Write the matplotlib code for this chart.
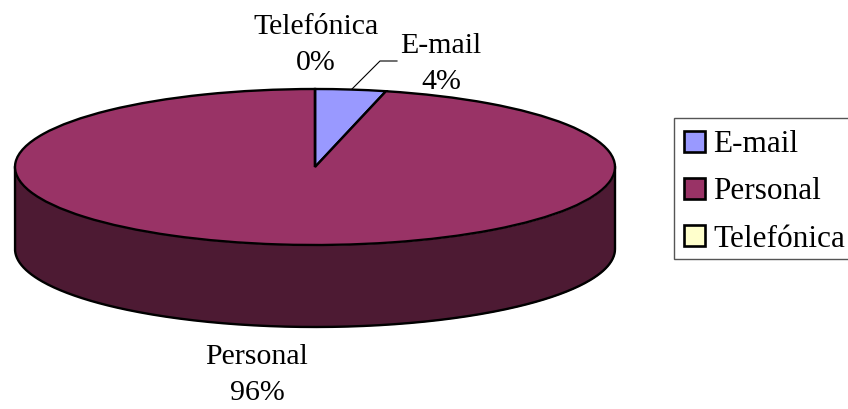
import numpy as np
import matplotlib
matplotlib.use('Agg')
import matplotlib.pyplot as plt

categories = ['E-mail', 'Personal', 'Telefónica']
shares = [3.8, 96.2, 0.0]
slice_colors = ['#9999FF', '#993366', '#FFFFCC']
side_color = '#4D1A33'

# pie geometry in pixels of the 848x409 picture
W, H = 848, 409
cx, cy = 315, 167
rx, ry = 300, 78
depth = 82

plt.rcParams['font.family'] = ['Liberation Serif']

fig = plt.figure(figsize=(W / 100, H / 100), dpi=100)
ax = fig.add_axes([0, 0, 1, 1])

# the front wall of the slanted pie, outline drawn as one line
t = np.linspace(np.pi, 2 * np.pi, 300)
ax.fill_between(np.cos(t), np.sin(t), np.sin(t) - depth / ry, color=side_color, lw=0, zorder=1)
wall_x = np.r_[-1, np.cos(t), 1]
wall_y = np.r_[0, np.sin(t) - depth / ry, 0]
ax.plot(wall_x, wall_y, color='black', lw=1.7, zorder=2)

ax.pie(shares, colors=slice_colors, startangle=90, counterclock=False, radius=1,
       wedgeprops={'edgecolor': 'black', 'linewidth': 1.7, 'zorder': 3})

# pie() forces a round shape, so squash it afterwards
ax.set_aspect('auto')
ax.set_xlim(-cx / rx, (W - cx) / rx)
ax.set_ylim(-(H - cy) / ry, cy / ry)
ax.axis('off')


def px(x, y):
    return (x - cx) / rx, (cy - y) / ry


label_pos = {'E-mail': (441, 64), 'Personal': (257, 375), 'Telefónica': (316, 45.5)}
for name, share in zip(categories, shares):
    x, y = px(*label_pos[name])
    ax.text(x, y, f'{name}\n{share:.0f}%', ha='center', va='center', fontsize=21.5,
            linespacing=1.5, color='black', zorder=5)

# leader line of the E-mail label
leader = [px(352, 89), px(380, 61), px(397, 61)]
ax.plot([p[0] for p in leader], [p[1] for p in leader], color='black', lw=0.8, zorder=4)

# legend frame runs past the right edge of the picture
frame = plt.Rectangle((674 / W, 1 - 259 / H), 200 / W, 141 / H, transform=fig.transFigure,
                      facecolor='white', edgecolor='#555555', lw=1.0)
fig.add_artist(frame)

handles = [plt.Rectangle((0, 0), 1, 1, facecolor=c, edgecolor='black', lw=1.9) for c in slice_colors]
leg = fig.legend(handles, categories, loc='upper left', bbox_to_anchor=(674 / W, 1 - 120 / H),
                 fontsize=22.5, frameon=False,
                 borderaxespad=0, borderpad=0.33, handlelength=0.65, handleheight=0.65,
                 handletextpad=0.27, labelspacing=0.58)

fig.savefig('out.png', dpi=100, facecolor='white')
